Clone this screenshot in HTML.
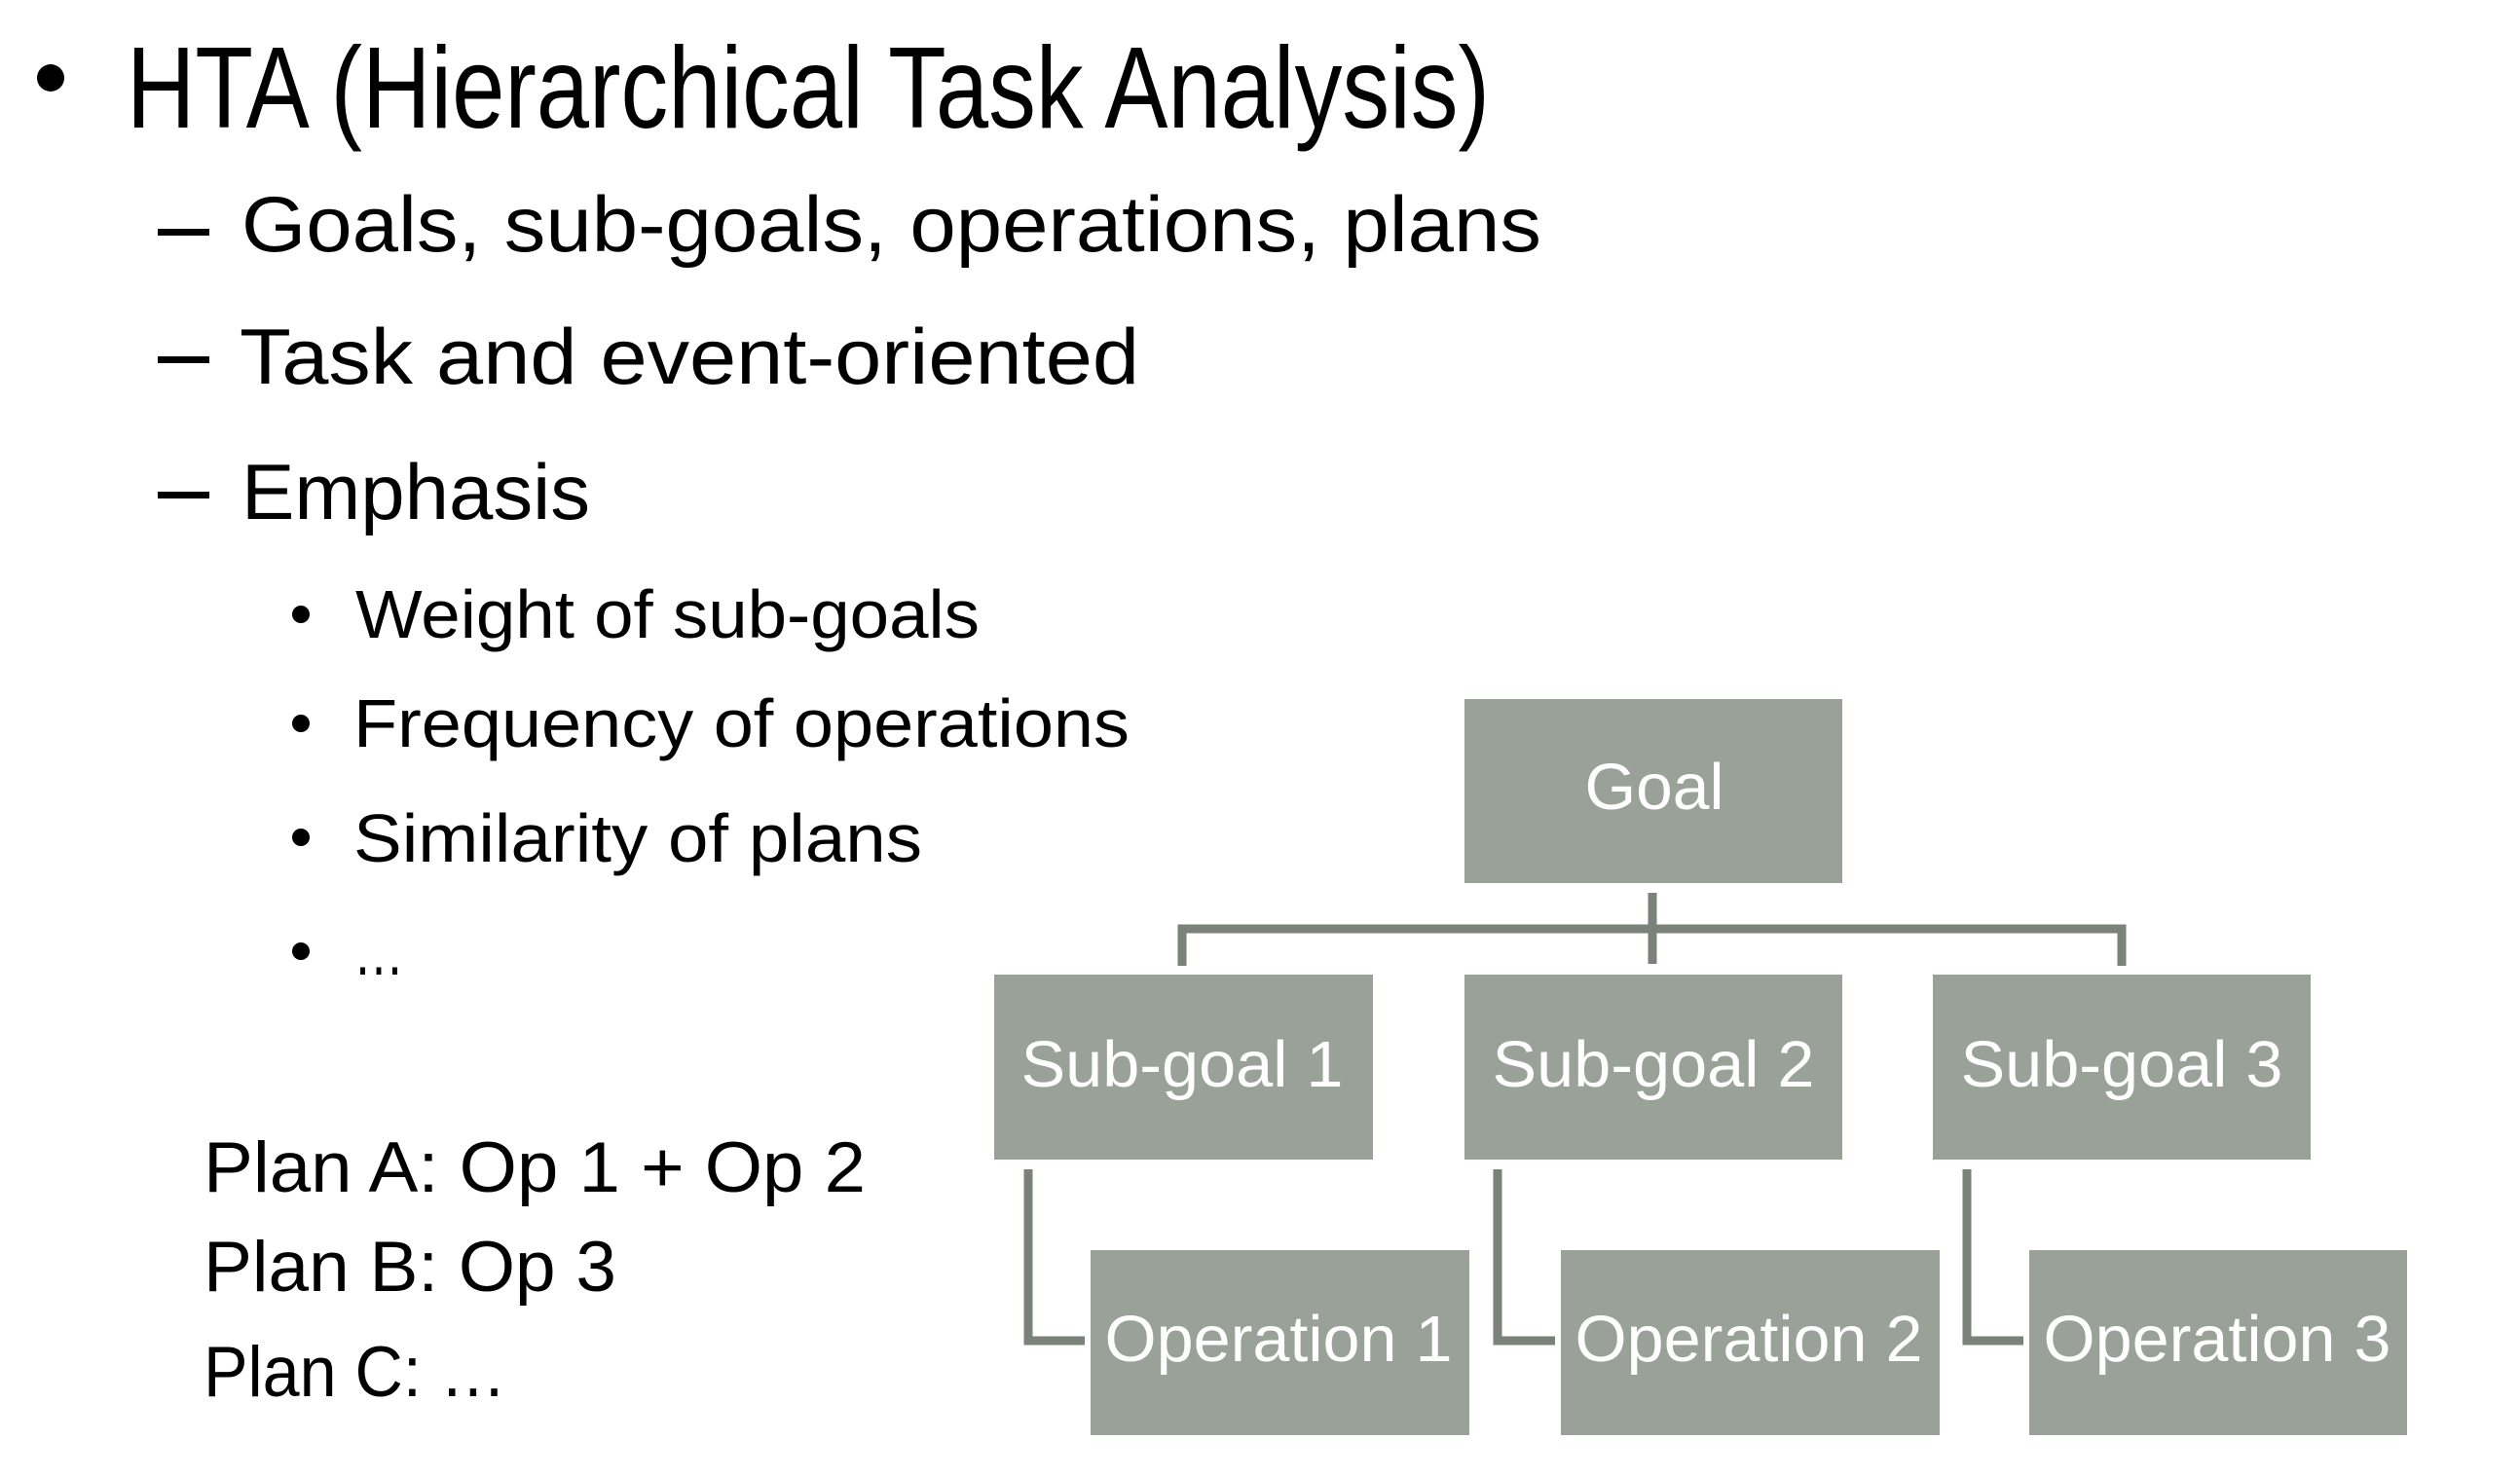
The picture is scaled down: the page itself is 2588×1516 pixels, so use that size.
<!DOCTYPE html>
<html><head><meta charset="utf-8"><style>html,body{margin:0;padding:0;background:#fff}svg{display:block}</style></head>
<body>
<svg width="2588" height="1516" viewBox="0 0 2588 1516" xmlns="http://www.w3.org/2000/svg" font-family="Liberation Sans, Arial, sans-serif">
<rect width="2588" height="1516" fill="#fff"/>
<g fill="#000">
<circle cx="52" cy="80" r="14"/>
<text x="130" y="131" font-size="119" textLength="1400" lengthAdjust="spacingAndGlyphs">HTA (Hierarchical Task Analysis)</text>
<rect x="162" y="235" width="53" height="7"/>
<text x="248" y="258" font-size="81" textLength="1335" lengthAdjust="spacingAndGlyphs">Goals, sub-goals, operations, plans</text>
<rect x="162" y="366" width="53" height="7"/>
<text x="246" y="394" font-size="81" textLength="924" lengthAdjust="spacingAndGlyphs">Task and event-oriented</text>
<rect x="162" y="505" width="53" height="7"/>
<text x="248" y="533" font-size="81" textLength="358" lengthAdjust="spacingAndGlyphs">Emphasis</text>
<circle cx="309" cy="631" r="9"/>
<text x="365" y="655" font-size="70" textLength="641" lengthAdjust="spacingAndGlyphs">Weight of sub-goals</text>
<circle cx="309" cy="743" r="9"/>
<text x="363" y="767" font-size="70" textLength="797" lengthAdjust="spacingAndGlyphs">Frequency of operations</text>
<circle cx="309" cy="860" r="9"/>
<text x="363" y="885" font-size="70" textLength="584" lengthAdjust="spacingAndGlyphs">Similarity of plans</text>
<circle cx="309" cy="977" r="9"/>
<text x="363" y="1001" font-size="70" textLength="52" lengthAdjust="spacingAndGlyphs">…</text>
<text x="209" y="1224" font-size="73" textLength="680" lengthAdjust="spacingAndGlyphs">Plan A: Op 1 + Op 2</text>
<text x="209" y="1326" font-size="73" textLength="424" lengthAdjust="spacingAndGlyphs">Plan B: Op 3</text>
<text x="209" y="1434" font-size="73" textLength="311" lengthAdjust="spacingAndGlyphs">Plan C: …</text>
</g>
<g fill="none" stroke="#7a8279" stroke-width="9">
<path d="M1697 917 V990"/>
<path d="M1214 992 V954 H2179 V992"/>
<path d="M1056 1201 V1377 H1114"/>
<path d="M1538 1201 V1377 H1597"/>
<path d="M2020 1201 V1377 H2078"/>
</g>
<g fill="#99a199">
<rect x="1504" y="718" width="388" height="189"/>
<rect x="1021" y="1001" width="389" height="190"/>
<rect x="1504" y="1001" width="388" height="190"/>
<rect x="1985" y="1001" width="388" height="190"/>
<rect x="1120" y="1284" width="389" height="190"/>
<rect x="1603" y="1284" width="389" height="190"/>
<rect x="2084" y="1284" width="388" height="190"/>
</g>
<g fill="#fff" font-size="67" text-anchor="middle">
<text x="1699" y="831" textLength="143" lengthAdjust="spacingAndGlyphs">Goal</text>
<text x="1214" y="1116" textLength="331" lengthAdjust="spacingAndGlyphs">Sub-goal 1</text>
<text x="1698" y="1116" textLength="331" lengthAdjust="spacingAndGlyphs">Sub-goal 2</text>
<text x="2179" y="1116" textLength="331" lengthAdjust="spacingAndGlyphs">Sub-goal 3</text>
<text x="1313" y="1398" textLength="357" lengthAdjust="spacingAndGlyphs">Operation 1</text>
<text x="1796" y="1398" textLength="357" lengthAdjust="spacingAndGlyphs">Operation 2</text>
<text x="2277" y="1398" textLength="357" lengthAdjust="spacingAndGlyphs">Operation 3</text>
</g>
</svg>
</body></html>
